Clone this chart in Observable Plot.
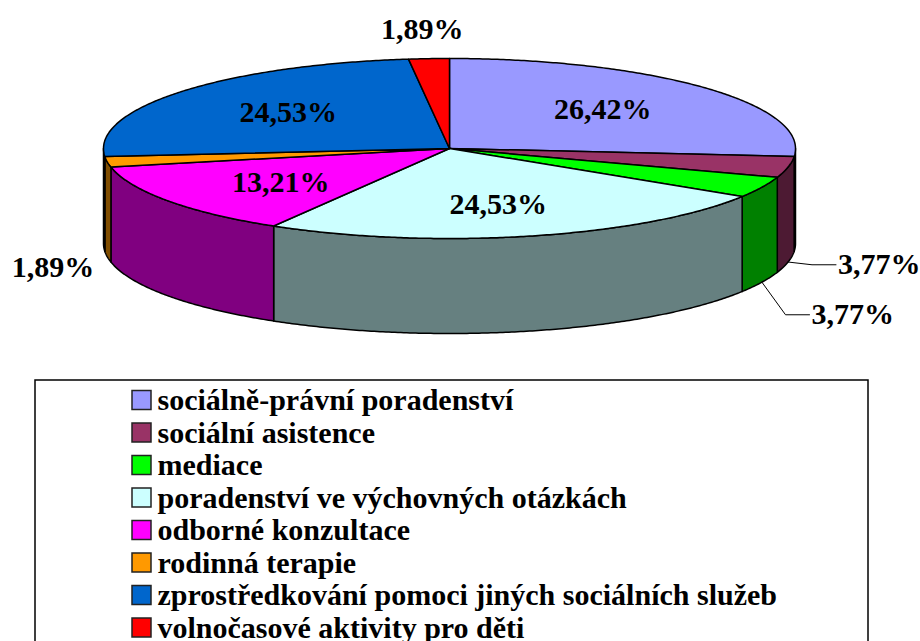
<!DOCTYPE html>
<html><head><meta charset="utf-8">
<script src="https://cdn.jsdelivr.net/npm/d3@7"></script>
<script src="https://cdn.jsdelivr.net/npm/@observablehq/plot@0.6"></script>
<style>
body{margin:0;background:#fff}
#chart svg text{font-family:"Liberation Serif","Times New Roman",serif !important;font-weight:bold}
</style>
</head><body><div id="chart"></div>
<script>
// ---- data ----
const categories = ["sociálně-právní poradenství","sociální asistence","mediace","poradenství ve výchovných otázkách","odborné konzultace","rodinná terapie","zprostředkování pomoci jiných sociálních služeb","volnočasové aktivity pro děti"];
const shares = [26.42, 3.77, 3.77, 24.53, 13.21, 1.89, 24.53, 1.89];
const shareLabels = ["26,42%","3,77%","3,77%","24,53%","13,21%","1,89%","24,53%","1,89%"];
// ---- styles ----
const palette = ["#9999FF","#993366","#00FF00","#CCFFFF","#FF00FF","#FF9900","#0066CC","#FF0000"];

const W = 920, H = 641;
const cx = 449, cy = 148, rx = 346, ry = 90, depth = 95;
const font = "Liberation Serif";
const fs = 30;

const arcs = d3.pie().sort(null).value(d => d)(shares);
const px = (a, r = 1) => cx + rx * r * Math.sin(a);
const py = (a, r = 1) => cy - ry * r * Math.cos(a);
const dark = c => { const k = d3.rgb(c); return d3.rgb(k.r * 0.5, k.g * 0.5, k.b * 0.5).formatHex(); };
const step = Math.PI / 360;
const arcPts = (a0, a1) => { const n = Math.max(2, Math.ceil((a1 - a0) / step)); return d3.range(n + 1).map(i => a0 + (a1 - a0) * i / n); };

const polys = [];
// side walls (front half only)
arcs.forEach((s, i) => {
  const a0 = Math.max(s.startAngle, Math.PI / 2), a1 = Math.min(s.endAngle, 3 * Math.PI / 2);
  if (a1 <= a0) return;
  const as = arcPts(a0, a1);
  const pts = [...as.map(a => [px(a), py(a)]), ...as.slice().reverse().map(a => [px(a), py(a) + depth])];
  pts.forEach(([x, y]) => polys.push({id: "s" + i, x, y, fill: dark(palette[i])}));
});
// top faces
arcs.forEach((s, i) => {
  polys.push({id: "t" + i, x: cx, y: cy, fill: palette[i]});
  arcPts(s.startAngle, s.endAngle).forEach(a => polys.push({id: "t" + i, x: px(a), y: py(a), fill: palette[i]}));
});

// labels
const inside = [], outside = [], leaders = [];
arcs.forEach((s, i) => {
  const m = (s.startAngle + s.endAngle) / 2;
  if (shares[i] >= 5) {
    inside.push({x: px(m, 0.6), y: py(m, 0.64), t: shareLabels[i]});
  } else {
    const front = Math.cos(m) < 0;
    const ex = px(m), ey = py(m) + (front ? depth : 0);
    let ux = rx * Math.sin(m), uy = -ry * Math.cos(m);
    const L = Math.hypot(ux, uy); ux /= L; uy /= L;
    const right = Math.sin(m) > 0.5;
    const gap = right ? 50 : (front ? 13 : 30);
    const anchor = Math.abs(Math.sin(m)) < 0.3 ? "middle" : (Math.sin(m) > 0 ? "start" : "end");
    outside.push({i, x: ex + gap * ux, y: ey + gap * uy + (front && !right ? 10 : 0), ex, ey, t: shareLabels[i], anchor, right});
  }
});
// simple collision avoidance for right-side labels
const rightLabs = outside.filter(d => d.right).sort((a, b) => a.y - b.y);
for (let k = 1; k < rightLabs.length; k++) rightLabs[k].y = Math.max(rightLabs[k].y, rightLabs[k - 1].y + 50);
rightLabs.forEach(d => {
  leaders.push({id: d.i, x: d.ex, y: d.ey});
  leaders.push({id: d.i, x: d.x - 26, y: d.y});
  leaders.push({id: d.i, x: d.x - 2, y: d.y});
});

// legend layout
const legendTop = 400, rowH = 32.5;
const legend = categories.map((c, i) => ({c, i, y: legendTop + i * rowH, fill: palette[i]}));

const textOpts = {fontFamily: font, fontWeight: "bold", fontSize: fs, fill: "black"};

const chart = Plot.plot({
  width: W, height: H, margin: 0,
  x: {domain: [0, W], range: [0, W], axis: null},
  y: {domain: [0, H], range: [0, H], axis: null},
  color: {type: "identity"},
  marks: [
    Plot.line(polys, {x: "x", y: "y", z: "id", fill: "fill", stroke: "black", strokeWidth: 1.5, strokeLinejoin: "round", curve: "linear-closed"}),
    Plot.line(leaders, {x: "x", y: "y", z: "id", stroke: "black", strokeWidth: 1}),
    Plot.text(inside, {x: "x", y: "y", text: "t", ...textOpts}),
    ...["start", "middle", "end"].map(a =>
      Plot.text(outside.filter(d => d.anchor === a), {x: "x", y: "y", text: "t", textAnchor: a, ...textOpts})),
    Plot.rect([{}], {x1: () => 35, x2: () => 868, y1: () => legendTop - 20, y2: () => legendTop + categories.length * rowH + 40, fill: "none", stroke: "black", strokeWidth: 1.5}),
    Plot.rect(legend, {x1: () => 132, x2: () => 151, y1: d => d.y - 9.5, y2: d => d.y + 9.5, fill: "fill", stroke: "#222", strokeWidth: 1.5}),
    Plot.text(legend, {x: () => 157, y: "y", text: "c", textAnchor: "start", ...textOpts})
  ]
});
document.getElementById("chart").appendChild(chart);
</script>
</body></html>
